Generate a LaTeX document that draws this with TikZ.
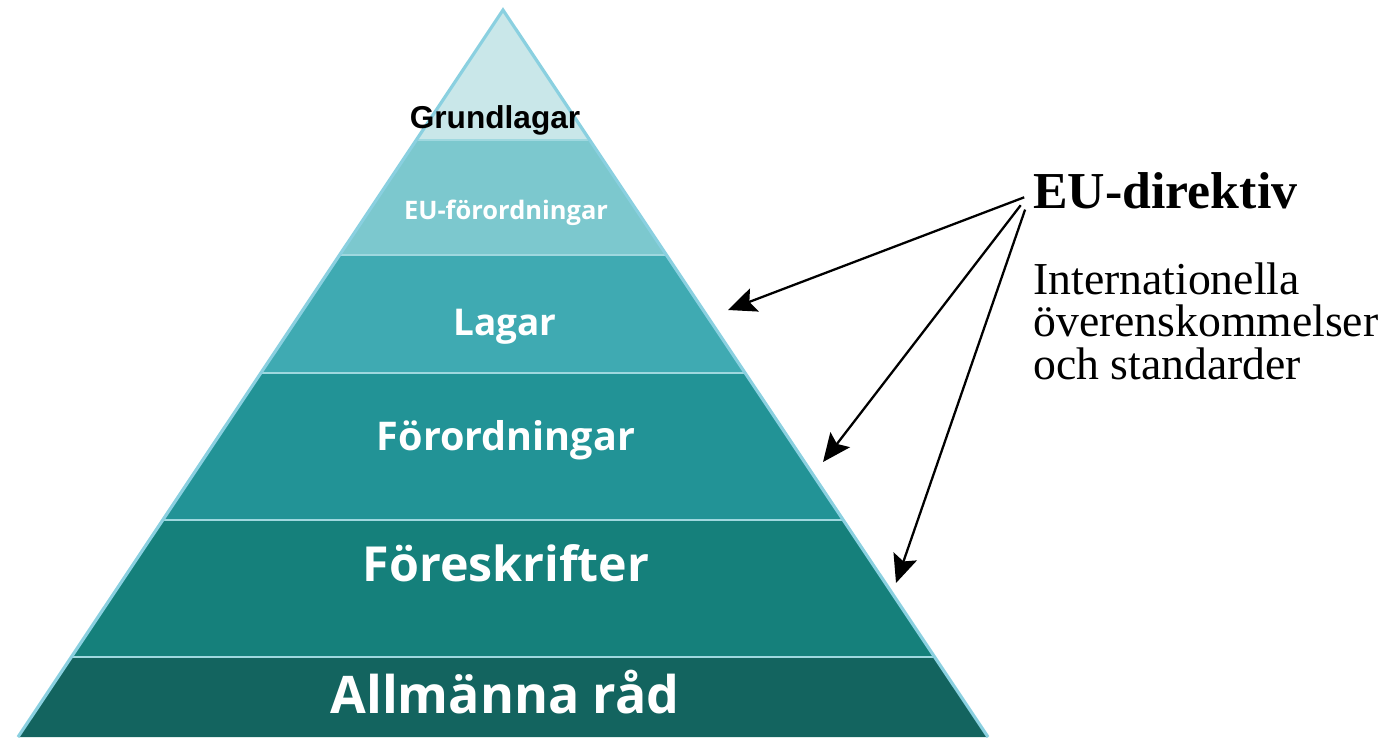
\documentclass[tikz,border=0pt]{standalone}
\usepackage{fontspec}
\setmainfont{Liberation Serif}
\newfontfamily\arialfont{Liberation Sans}
\newfontfamily\opensans{Open Sans}
\usetikzlibrary{calc,arrows.meta}
\definecolor{layA}{HTML}{C9E7E9}
\definecolor{layB}{HTML}{7CC8CE}
\definecolor{layC}{HTML}{3FAAB2}
\definecolor{layD}{HTML}{229396}
\definecolor{layE}{HTML}{15807B}
\definecolor{layF}{HTML}{13645F}
\definecolor{edgeblue}{HTML}{8AD0E0}
\definecolor{sepblue}{HTML}{9FD8DF}
\def\layer(#1:#2)[#3]{\fill[#3] ($(apex)!#1!(bl)$) -- ($(apex)!#2!(bl)$) -- ($(apex)!#2!(br)$) -- ($(apex)!#1!(br)$) -- cycle;}
\tikzset{
	lbl/.style={inner sep=0, anchor=base, text=white, font=\opensans\bfseries},
	arr/.style={line width=1.3pt, -{Stealth[length=16pt, width=14pt, inset=3pt]}},
}

\begin{document}
\begin{tikzpicture}[x=0.02cm, y=-0.02cm]
		%%%%% START %%%%%
		
		\useasboundingbox (0, 0) rectangle (1382, 737);
		
		\coordinate (apex) at (503, 10);
		\coordinate (bl) at (18, 737);
		\coordinate (br) at (988, 737);
		
		\layer(0:0.179)[layA]
		\layer(0.179:0.337)[layB]
		\layer(0.337:0.4993)[layC]
		\layer(0.4993:0.7015)[layD]
		\layer(0.7015:0.890)[layE]
		\layer(0.890:1)[layF]
		
		\foreach \t in {0.179, 0.337, 0.4993, 0.7015, 0.890}
			\draw[sepblue, line width=1.2pt] ($(apex)!\t!(bl)$) -- ($(apex)!\t!(br)$);
		
		\draw[edgeblue, line width=1.8pt, line join=miter] (bl) -- (apex) -- (br);
		
		\node[lbl, text=black, font=\arialfont\bfseries\fontsize{18}{21}\selectfont] (grund) at (495, 128) {Grundlagar};
		\node[lbl, font=\opensans\bfseries\fontsize{14.5}{17}\selectfont] (euforo) at (506, 219) {EU-förordningar};
		\node[lbl, font=\opensans\bfseries\fontsize{21}{24}\selectfont] (lagar) at (505, 335) {Lagar};
		\node[lbl, font=\opensans\bfseries\fontsize{22.5}{26}\selectfont] (forord) at (506, 450) {Förordningar};
		\node[lbl, font=\opensans\bfseries\fontsize{27.5}{32}\selectfont] (foreskr) at (506, 581) {Föreskrifter};
		\node[lbl, font=\opensans\bfseries\fontsize{29.5}{34}\selectfont] (allm) at (505, 713) {Allmänna råd};
		
		\node[inner sep=0, anchor=base west, font=\bfseries\fontsize{29.5}{34}\selectfont] (eudir) at (1033, 208) {EU-direktiv};
		\node[inner sep=0, anchor=north west, align=left, font=\fontsize{26}{24.2}\selectfont] (intl) at (1033, 262) {Internationella\\överenskommelser\\och standarder};
		
		\coordinate (tipA) at (728, 310);
		\coordinate (tipB) at (823, 462);
		\coordinate (tipC) at (896, 583);
		
		\draw[arr] ([xshift=-5pt, yshift=-4pt]eudir.west) -- (tipA);
		\draw[arr] ([xshift=-7pt, yshift=-8.5pt]eudir.west) -- (tipB);
		\draw[arr] ([xshift=-4.5pt, yshift=-11pt]eudir.west) -- (tipC);
		
		%%%%% END %%%%%
	\end{tikzpicture}
\end{document}
